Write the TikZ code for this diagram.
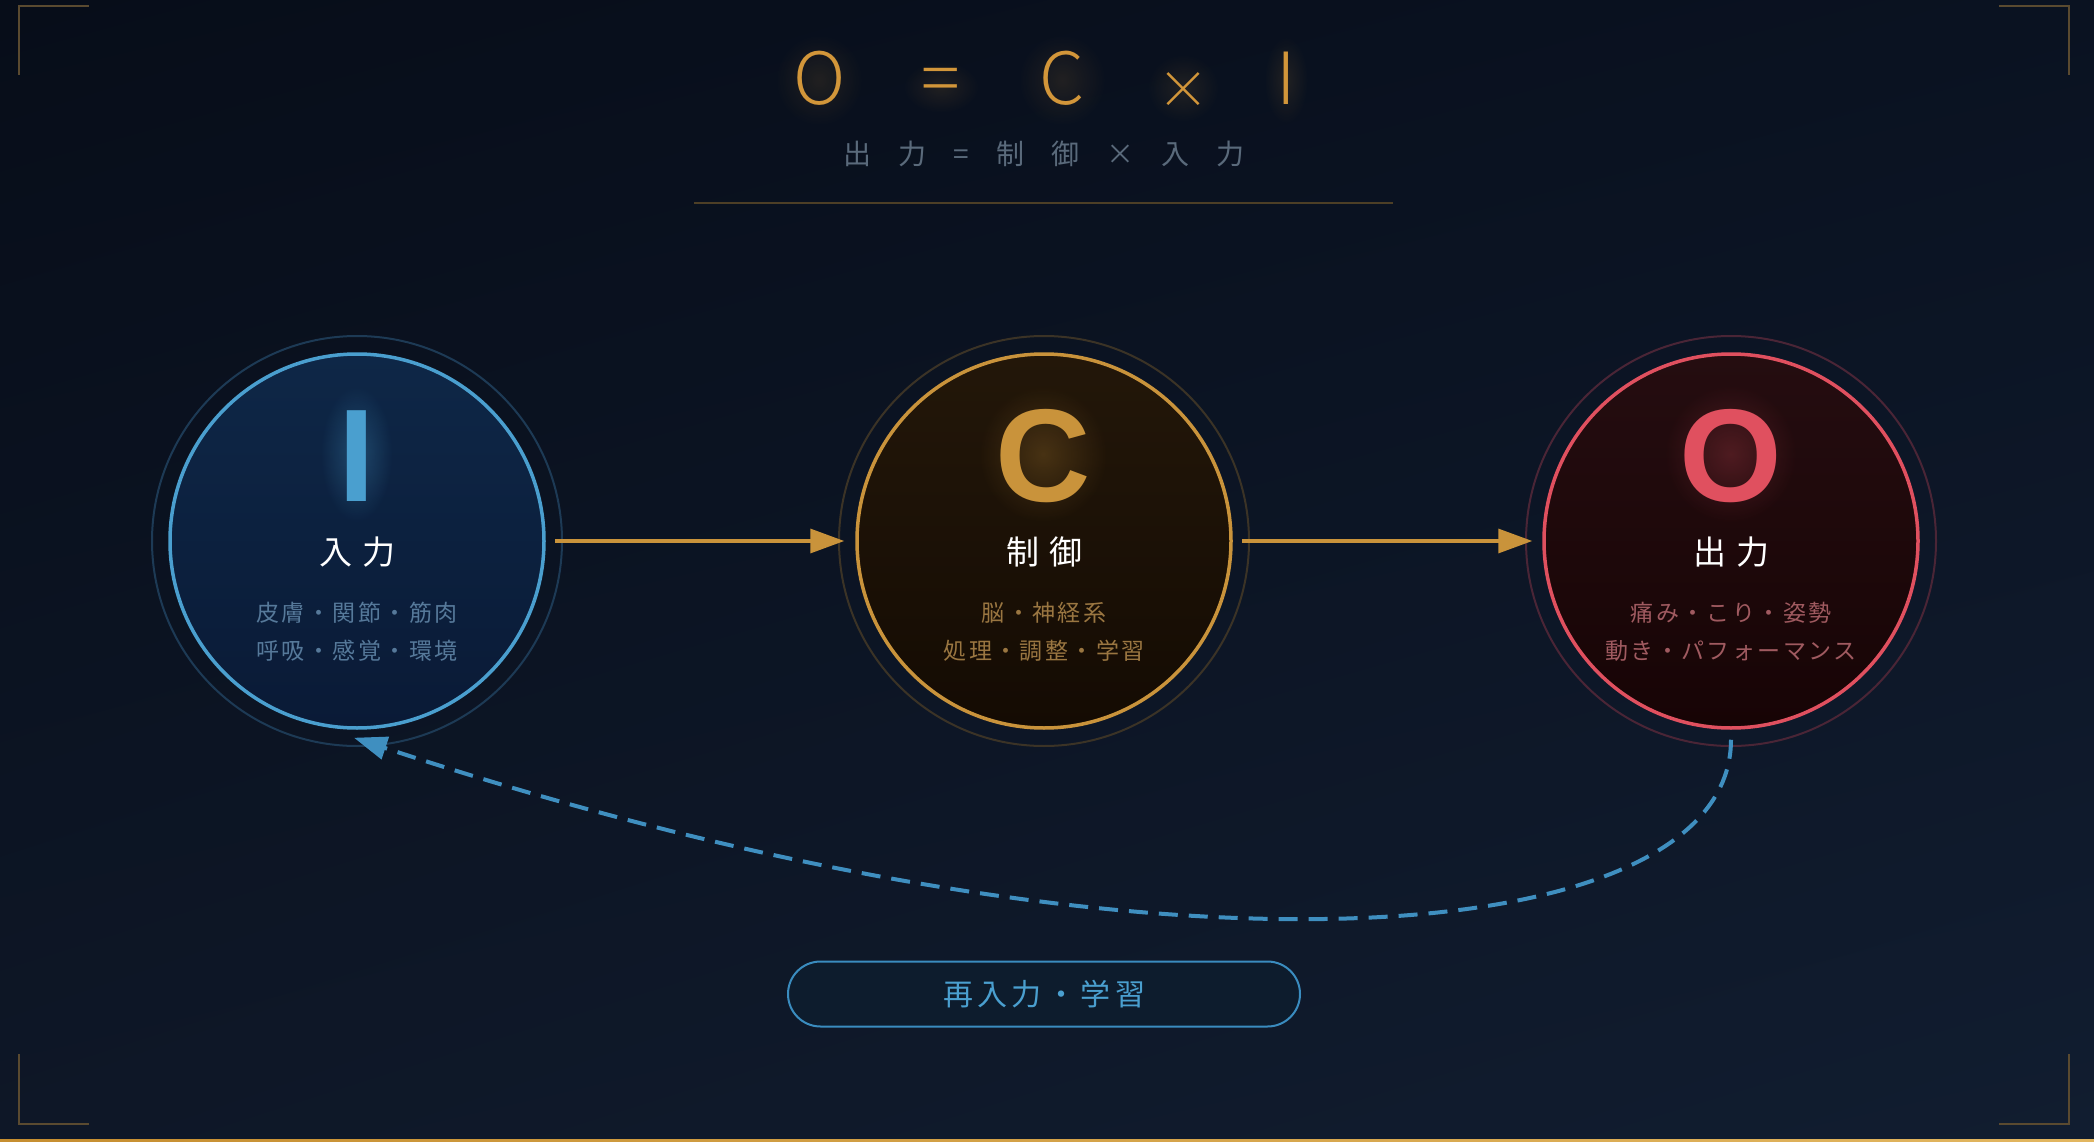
\documentclass[tikz,border=0pt]{standalone}
\usepackage{fontspec}
\setmainfont{Liberation Sans}
\newfontfamily\jp{Noto Sans CJK JP}
\IfFontExistsTF{Noto Sans CJK JP Light}{\newfontfamily\ttl{Noto Sans CJK JP Light}}{\newfontfamily\ttl{Noto Sans CJK JP}}
\usetikzlibrary{arrows.meta,calc,fadings,shadings}
\makeatletter
\def\ls@end{\ls@end}
\newcommand\ls[2]{\def\ls@amt{#1}\ls@go#2\ls@end}
\def\ls@go#1#2{#1\ifx#2\ls@end\else\hskip\ls@amt\relax\expandafter\ls@go\expandafter#2\fi}
\makeatother
\definecolor{bgTL}{HTML}{070D19}
\definecolor{bgTR}{HTML}{0A1221}
\definecolor{bgBL}{HTML}{0E1727}
\definecolor{bgBR}{HTML}{111D30}
\definecolor{titlegold}{HTML}{D2963A}
\definecolor{goldc}{HTML}{C9933B}
\definecolor{blueI}{HTML}{4A9FCF}
\definecolor{redO}{HTML}{E0505F}
\definecolor{subgray}{HTML}{5A6A7B}
\definecolor{divgold}{HTML}{4D3F26}
\definecolor{cornergold}{HTML}{5A4A30}
\definecolor{ringI}{HTML}{1D3A55}
\definecolor{ringC}{HTML}{3B3326}
\definecolor{ringO}{HTML}{4A2536}
\definecolor{fillIt}{HTML}{0E2747}
\definecolor{fillIb}{HTML}{0A1A36}
\definecolor{fillCt}{HTML}{231709}
\definecolor{fillCb}{HTML}{140B03}
\definecolor{fillOt}{HTML}{250D10}
\definecolor{fillOb}{HTML}{170405}
\definecolor{subI}{HTML}{56799A}
\definecolor{subC}{HTML}{9A7641}
\definecolor{subO}{HTML}{A05A60}
\definecolor{dashblue}{HTML}{3F8FC0}
\definecolor{pillblue}{HTML}{3A8CBF}
\definecolor{pillfill}{HTML}{0D1C2D}
\definecolor{stripL}{HTML}{C68E30}
\definecolor{stripR}{HTML}{E2B660}
\tikzfading[name=glowfade, inner color=transparent!0, outer color=transparent!100]
\begin{document}
\begin{tikzpicture}[x=1pt,y=-1pt,
  corner/.style={draw=cornergold, line width=2.5pt},
  mainring/.style={circle, minimum size=374pt, inner sep=0pt, line width=3.5pt},
  outerring/.style={line width=2pt},
  bigletter/.style={anchor=base, inner sep=0pt, font={\fontsize{132}{132}\selectfont\bfseries}},
  lbl/.style={anchor=base, inner sep=0pt, text=white, font={\jp\fontsize{33}{33}\selectfont}},
  subline/.style={anchor=base, inner sep=0pt, font={\jp\fontsize{23}{23}\selectfont}},
  glow/.style={fill opacity=0.24, path fading=glowfade},
  tglow/.style={fill=titlegold, fill opacity=0.12, path fading=glowfade},
  flowarrow/.style={draw=goldc, line width=3.3pt, -{Triangle[length=34pt,width=24pt]}},
  feedback/.style={draw=dashblue, line width=4pt, dash pattern=on 19pt off 11pt, -{Triangle[length=33pt,width=23pt]}},
  pillbox/.style={draw=pillblue, line width=2pt, fill=pillfill, rounded corners=32.5pt, minimum width=512pt, minimum height=65pt, inner sep=0pt, text=blueI, font={\jp\fontsize{30}{30}\selectfont}, text height=24.9pt, text depth=2.1pt}
]
\useasboundingbox (0,0) rectangle (2094,1142);
% background
\shade[upper left=bgTL, upper right=bgTR, lower left=bgBL, lower right=bgBR] (0,0) rectangle (2094,1142);
\shade[left color=stripL, right color=stripR] (0,1139) rectangle (2094,1142);
% corner brackets
\draw[corner] (19,75) -- (19,6) -- (89,6);
\draw[corner] (1999,6) -- (2069,6) -- (2069,75);
\draw[corner] (19,1054) -- (19,1124) -- (89,1124);
\draw[corner] (1999,1124) -- (2069,1124) -- (2069,1054);
% title glow
\fill[tglow] (819,80) ellipse[x radius=44, y radius=46];
\fill[tglow] (941,87) ellipse[x radius=38, y radius=26];
\fill[tglow] (1062,80) ellipse[x radius=44, y radius=46];
\fill[tglow] (1183,88) ellipse[x radius=36, y radius=34];
\fill[tglow] (1286,80) ellipse[x radius=22, y radius=44];
% title
\node[anchor=base west, inner sep=0pt, text=titlegold, font={\ttl\fontsize{72}{72}\selectfont}] (title) at (819,105)
  {\makebox[0pt]{O}\hspace{122pt}\makebox[0pt]{=}\hspace{121pt}\makebox[0pt]{C}\hspace{121pt}\makebox[0pt]{\raisebox{-3.5pt}{\fontsize{52}{52}\selectfont ×}}\hspace{103pt}\makebox[0pt]{I}};
\node[anchor=base, inner sep=0pt, text=subgray, font={\jp\fontsize{28}{28}\selectfont}] (subtitle) at (1044,165) {\ls{27pt}{出力=制御×入力}};
\draw[draw=divgold, line width=2pt] (694,203) -- (1393,203);
% outer rings
\draw[outerring, draw=ringI] (357,541) circle[radius=205];
\draw[outerring, draw=ringC] (1044,541) circle[radius=205];
\draw[outerring, draw=ringO] (1731,541) circle[radius=205];
% main circles
\node[mainring, draw=blueI, top color=fillIt, bottom color=fillIb] (I) at (357,541) {};
\node[mainring, draw=goldc, top color=fillCt, bottom color=fillCb] (C) at (1044,541) {};
\node[mainring, draw=redO, top color=fillOt, bottom color=fillOb] (O) at (1731,541) {};
% glows
\fill[blueI, glow, fill opacity=0.3] (356.5,454) ellipse[x radius=36, y radius=68];
\fill[goldc, glow] (1043,454) ellipse[x radius=64, y radius=68];
\fill[redO, glow] (1730.5,454) ellipse[x radius=66, y radius=69];
% letters
\node[bigletter, text=blueI] (Ilet) at (356.5,501) {I};
\node[bigletter, text=goldc] (Clet) at (1043,501) {C};
\node[bigletter, text=redO] (Olet) at (1730.5,501) {O};
% labels
\node[lbl] (Ilbl) at (357,564.5) {\ls{10pt}{入力}};
\node[lbl] (Clbl) at (1044,564.5) {\ls{10pt}{制御}};
\node[lbl] (Olbl) at (1731,564.5) {\ls{10pt}{出力}};
\node[subline, text=subI] (Is1) at (357,621.7) {\ls{2.4pt}{皮膚・関節・筋肉}};
\node[subline, text=subI] (Is2) at (357,659.7) {\ls{2.4pt}{呼吸・感覚・環境}};
\node[subline, text=subC] (Cs1) at (1044,621.7) {\ls{2.4pt}{脳・神経系}};
\node[subline, text=subC] (Cs2) at (1044,659.7) {\ls{2.4pt}{処理・調整・学習}};
\node[subline, text=subO] (Os1) at (1731,621.7) {\ls{2.4pt}{痛み・こり・姿勢}};
\node[subline, text=subO] (Os2) at (1731,659.7) {\ls{2.4pt}{動き・パフォーマンス}};
% flow arrows
\draw[flowarrow] ($(I.east)+(9,0)$) -- ($(C.west)+(-11,0)$);
\draw[flowarrow] ($(C.east)+(9,0)$) -- ($(O.west)+(-10,0)$);
% feedback
\draw[feedback] ($(O.south)+(0,10)$) .. controls +(0,212) and +(800,264) .. ($(I.south)+(-3,8)$);
% pill
\node[pillbox] (pill) at (1044,994) {\ls{4.4pt}{再入力・学習}};
\end{tikzpicture}
\end{document}
